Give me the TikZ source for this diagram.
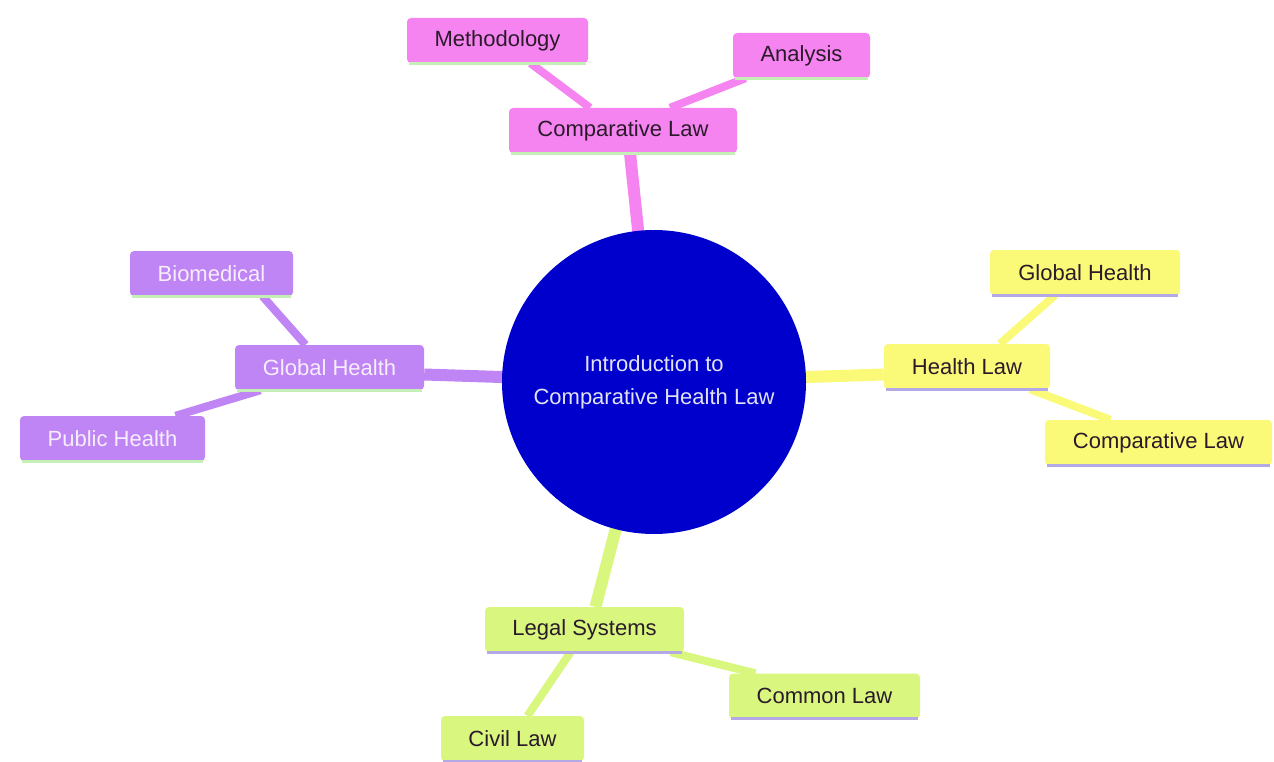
\documentclass[tikz,border=0pt]{standalone}
\usepackage{fontspec}
\setmainfont{Liberation Sans}
\usetikzlibrary{backgrounds}
\definecolor{pinkc}{HTML}{F583F0}
\definecolor{yelc}{HTML}{FAFA78}
\definecolor{grnc}{HTML}{D9F77F}
\definecolor{purc}{HTML}{BF85F5}
\definecolor{rootc}{HTML}{0000CD}
\definecolor{lgreen}{HTML}{C5F0B5}
\definecolor{lav}{HTML}{B4A8E6}
\definecolor{darktxt}{HTML}{2A1A2A}
\definecolor{lighttxt}{HTML}{F6EEFC}
\definecolor{roottxt}{HTML}{E2E2F2}
\begin{document}
\begin{tikzpicture}[x=1pt,y=-1pt,
  every node/.style={font=\fontsize{22}{33}\selectfont},
  box/.style={rounded corners=4pt, minimum height=45pt, inner xsep=0pt, inner ysep=0pt, anchor=center},
  pinkbox/.style={box, fill=pinkc, text=darktxt},
  purbox/.style={box, fill=purc, text=lighttxt},
  yelbox/.style={box, fill=yelc, text=darktxt},
  grnbox/.style={box, fill=grnc, text=darktxt},
  rootedge/.style={line width=12pt},
  kidedge/.style={line width=8pt},
  gline/.style={draw=lgreen, line width=3pt},
  lline/.style={draw=lav, line width=3pt}]
\useasboundingbox (0,0) rectangle (1274,762);

% root
\node[circle, fill=rootc, minimum size=304pt, inner sep=0pt, text=roottxt, align=center] (root) at (654,382) {Introduction to\\Comparative Health Law};

% pink branch
\node[pinkbox, minimum width=228pt] (clt) at (623,130.5) {Comparative Law};
\node[pinkbox, minimum width=181pt] (meth) at (497.5,40.5) {Methodology};
\node[pinkbox, minimum width=137pt] (ana) at (801.5,55.5) {Analysis};

% purple branch
\node[purbox, minimum width=189pt] (ghl) at (329.5,367.5) {Global Health};
\node[purbox, minimum width=163pt] (bio) at (211.5,273.5) {Biomedical};
\node[purbox, minimum width=185pt] (ph) at (112.5,438.5) {Public Health};

% yellow branch
\node[yelbox, minimum width=166pt] (hl) at (967,366.5) {Health Law};
\node[yelbox, minimum width=190pt] (ghr) at (1085,272.5) {Global Health};
\node[yelbox, minimum width=227pt] (clr) at (1158.5,442.5) {Comparative Law};

% green branch
\node[grnbox, minimum width=199pt] (ls) at (584.5,629.5) {Legal Systems};
\node[grnbox, minimum width=191pt] (coml) at (824.5,696) {Common Law};
\node[grnbox, minimum width=143pt] (civl) at (512.5,738.5) {Civil Law};

% bottom borders
\foreach \n in {clt,meth,ana,ghl,bio,ph}
  \draw[gline] ([xshift=2pt]\n.south west) -- ([xshift=-2pt]\n.south east);
\foreach \n in {hl,ghr,clr,ls,coml,civl}
  \draw[lline] ([xshift=2pt]\n.south west) -- ([xshift=-2pt]\n.south east);

\begin{scope}[on background layer]
  \fill[white] (0,0) rectangle (1274,762);
  \draw[rootedge, pinkc] (root.center) -- ([xshift=7pt]clt.south);
  \draw[rootedge, purc] (root.center) -- ([yshift=-7pt]ghl.east);
  \draw[rootedge, yelc] (root.center) -- ([yshift=-8pt]hl.west);
  \draw[rootedge, grnc] (root.center) -- ([xshift=11pt]ls.north);

  \draw[kidedge, pinkc] ([xshift=-33pt]clt.north) -- ([xshift=33pt]meth.south);
  \draw[kidedge, pinkc] ([xshift=47pt]clt.north) -- ([xshift=-56pt]ana.south);

  \draw[kidedge, purc] ([xshift=-24pt]ghl.north) -- ([xshift=51pt]bio.south);
  \draw[kidedge, purc] ([xshift=-69pt]ghl.south) -- ([xshift=63pt]ph.north);

  \draw[kidedge, yelc] ([xshift=33pt]hl.north) -- ([xshift=-30pt]ghr.south);
  \draw[kidedge, yelc] ([xshift=63pt]hl.south) -- ([xshift=-48pt]clr.north);

  \draw[kidedge, grnc] ([xshift=86pt]ls.south) -- ([xshift=-69pt]coml.north);
  \draw[kidedge, grnc] ([xshift=-14pt]ls.south) -- ([xshift=15pt]civl.north);
\end{scope}
\end{tikzpicture}
\end{document}
